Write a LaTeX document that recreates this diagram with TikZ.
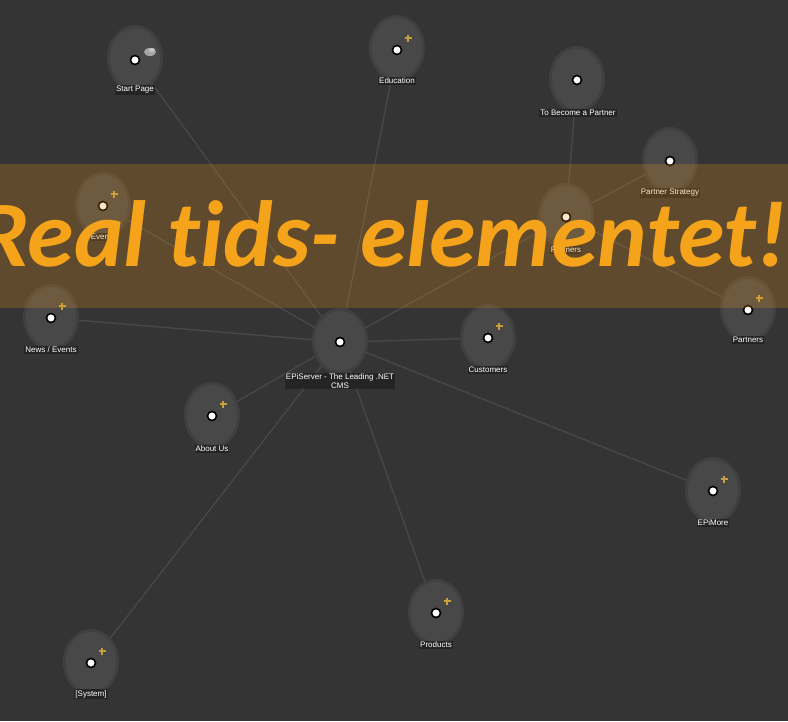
\documentclass[tikz,border=0pt]{standalone}
\usepackage{fontspec}
\setmainfont{Liberation Sans}
\newfontfamily\bannerfont{Carlito}[Ligatures=NoCommon]
\usetikzlibrary{shapes.geometric}
\definecolor{bg}{RGB}{52,52,52}
\definecolor{halo}{RGB}{72,72,72}
\definecolor{edgec}{RGB}{72,72,72}
\definecolor{plusc}{RGB}{200,160,60}
\definecolor{bannerc}{RGB}{240,150,30}
\definecolor{bannertext}{RGB}{245,163,26}
\tikzset{
  pg/.style={circle,fill=white,draw=black,line width=1.6pt,inner sep=0pt,minimum size=9pt},
  lbl/.style={text=white,font=\fontsize{8}{9}\selectfont,inner sep=1pt,fill=bg!70!black},
  link/.style={draw=edgec,line width=1.3pt},
}
\newcommand{\halonode}[2]{%
  \fill[halo!60!bg] (#1,#2) ellipse [x radius=28pt,y radius=33pt];
  \fill[halo] (#1,#2) ellipse [x radius=25pt,y radius=30pt];
}
\newcommand{\plusat}[2]{%
  \draw[plusc,line width=1.2pt] (#1+11,#2-12) ++(-3.5,0) -- ++(7,0) (#1+11,#2-12) ++(0,-3.5) -- ++(0,7);
}
\begin{document}
\begin{tikzpicture}[x=1pt,y=-1pt]
\fill[bg] (0,0) rectangle (788,721);
\useasboundingbox (0,0) rectangle (788,721);
% coordinates of nodes
\coordinate (cstart) at (135,60);
\coordinate (cedu) at (397,50);
\coordinate (cbecome) at (577,80);
\coordinate (cstrat) at (670,161);
\coordinate (cevents) at (103,206);
\coordinate (cpartm) at (566,217);
\coordinate (cpartr) at (748,310);
\coordinate (cnews) at (51,318);
\coordinate (ccenter) at (340,342);
\coordinate (ccust) at (488,338);
\coordinate (cabout) at (212,416);
\coordinate (cmore) at (713,491);
\coordinate (cprod) at (436,613);
\coordinate (csys) at (91,663);
% edges
\foreach \t in {cstart,cedu,cevents,cnews,cabout,csys,cprod,cmore,ccust,cpartm}
  \draw[link] (ccenter) -- (\t);
\foreach \t in {cbecome,cstrat,cpartr}
  \draw[link] (cpartm) -- (\t);
% halos
\foreach \x/\y in {135/58,397/48,577/79,670/160,103/205,566/216,748/309,51/317,340/341,488/337,212/415,713/490,436/612,91/662}
  \halonode{\x}{\y};
% dots
\node[pg] (start) at (cstart) {};
\node[pg] (edu) at (cedu) {};
\node[pg] (become) at (cbecome) {};
\node[pg] (strat) at (cstrat) {};
\node[pg] (events) at (cevents) {};
\node[pg] (partm) at (cpartm) {};
\node[pg] (partr) at (cpartr) {};
\node[pg] (news) at (cnews) {};
\node[pg] (center) at (ccenter) {};
\node[pg] (cust) at (ccust) {};
\node[pg] (about) at (cabout) {};
\node[pg] (more) at (cmore) {};
\node[pg] (prod) at (cprod) {};
\node[pg] (sys) at (csys) {};
% plus icons
\foreach \x/\y in {397/50,103/206,748/310,51/318,488/338,212/416,713/491,436/613,91/663}
  \plusat{\x}{\y};
% globe icon on start page
\fill[gray!70] (150,52) ellipse [x radius=6pt,y radius=4pt];
\fill[gray!45] (152,50) ellipse [x radius=3pt,y radius=2pt];
% labels
\node[lbl] (lstart) at (135,90) {Start Page};
\node[lbl] (ledu) at (397,81) {Education};
\node[lbl] (lbecome) at (578,113) {To Become a Partner};
\node[lbl] (lstrat) at (670,193) {Partner Strategy};
\node[lbl] (levents) at (103,237) {Events};
\node[lbl] (lpartm) at (566,250) {Partners};
\node[lbl] (lpartr) at (748,340) {Partners};
\node[lbl] (lnews) at (51,350) {News / Events};
\node[lbl,align=center] (lcenter) at (340,381) {EPiServer - The Leading .NET\\CMS};
\node[lbl] (lcust) at (488,370) {Customers};
\node[lbl] (labout) at (212,449) {About Us};
\node[lbl] (lmore) at (713,523) {EPiMore};
\node[lbl] (lprod) at (436,645) {Products};
\node[lbl] (lsys) at (91,694) {[System]};
% banner
\fill[bannerc,fill opacity=0.23] (0,164) rectangle (788,308);
\node[text=bannertext,font=\bannerfont\bfseries\itshape\fontsize{94}{94}\selectfont,anchor=base east,inner sep=0pt] (banner) at (787,266) {Real tids- elementet!};
\end{tikzpicture}
\end{document}
